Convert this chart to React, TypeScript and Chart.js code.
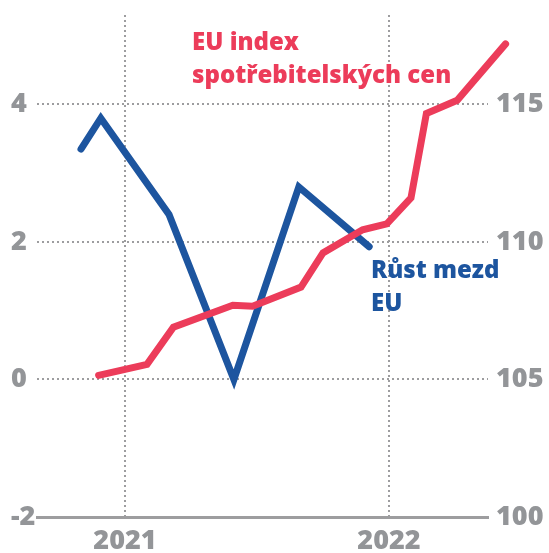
import React, { useEffect, useRef } from 'react';
import { Chart, registerables } from 'chart.js';

Chart.register(...registerables);

// x values are months relative to January 2021 (0 = Jan 2021, 12 = Jan 2022)
const wageMonths = [-2, -1.1, 2, 4.95, 7.9, 11.1];
const wageGrowth = [3.35, 3.8, 2.4, 0.0, 2.8, 1.93];

const cpiMonths = [-1.2, 1.0, 2.2, 4.9, 5.8, 8.0, 9.0, 10.8, 11.9, 13.0, 13.7, 15.1, 17.3];
const cpiIndex = [105.15, 105.55, 106.9, 107.7, 107.66, 108.36, 109.6, 110.44, 110.66, 111.6, 114.67, 115.15, 117.2];

const yearTicks = [0, 12];
const yearLabels = ['2021', '2022'];
const leftTicks = [-2, 0, 2, 4];
const rightTicks = [100, 105, 110, 115];

const cpiLabel = ['EU index', 'spotřebitelských cen'];
const wageLabel = ['Růst mezd', 'EU'];

const RED = '#ec3c5a';
const BLUE = '#1d559f';
const GRAY = '#939598';
const GRID = '#9d9d9f';
const FONT = '"Open Sans"';

const annotationPlugin = {
  id: 'textAnnotations',
  afterDatasetsDraw(chart: any) {
    const { ctx, scales } = chart;
    const x = scales.x;
    const y = scales.y;
    const items = [
      { lines: cpiLabel, mx: 3.05, vy: 4.785, color: RED },
      { lines: wageLabel, mx: 11.18, vy: 1.47, color: BLUE },
    ];
    ctx.save();
    ctx.font = `800 24px ${FONT}`;
    ctx.textAlign = 'left';
    ctx.textBaseline = 'alphabetic';
    for (const it of items) {
      const px = x.getPixelForValue(it.mx);
      const py = y.getPixelForValue(it.vy);
      ctx.fillStyle = it.color;
      it.lines.forEach((t, i) => ctx.fillText(t, px, py + i * 33));
    }
    ctx.restore();
  },
};

export default function App() {
  const ref = useRef<HTMLCanvasElement>(null);

  useEffect(() => {
    if (!ref.current) return;
    const tickFont = { family: FONT, size: 27, weight: 800 as any };
    const chart = new Chart(ref.current, {
      type: 'line',
      data: {
        datasets: [
          {
            label: 'EU index spotřebitelských cen',
            data: cpiMonths.map((m, i) => ({ x: m, y: cpiIndex[i] })),
            yAxisID: 'y2',
            borderColor: RED,
            borderWidth: 7,
            pointRadius: 0,
            borderCapStyle: 'round',
            borderJoinStyle: 'miter',
            tension: 0,
            clip: false as any,
          },
          {
            label: 'Růst mezd EU',
            data: wageMonths.map((m, i) => ({ x: m, y: wageGrowth[i] })),
            yAxisID: 'y',
            borderColor: BLUE,
            borderWidth: 7,
            pointRadius: 0,
            borderCapStyle: 'round',
            borderJoinStyle: 'miter',
            tension: 0,
            clip: false as any,
          },
        ],
      },
      options: {
        animation: false,
        responsive: false,
        maintainAspectRatio: false,
        layout: { padding: { left: 11, top: 15, right: 0, bottom: 0 } },
        plugins: { legend: { display: false }, tooltip: { enabled: false } },
        scales: {
          x: {
            type: 'linear',
            min: -4,
            max: 16.5,
            afterBuildTicks: (s: any) => {
              s.ticks = yearTicks.map((v) => ({ value: v }));
            },
            afterFit: (s: any) => {
              s.height = 36;
            },
            ticks: {
              callback: (v: any) => yearLabels[yearTicks.indexOf(Number(v))],
              font: tickFont,
              color: GRAY,
              padding: 8,
              maxRotation: 0,
              autoSkip: false,
            },
            grid: { color: GRID, lineWidth: 2, drawTicks: false },
            border: { display: true, color: GRID, width: 3, dash: [2, 3] },
          },
          y: {
            position: 'left',
            min: -2,
            max: 5.3,
            afterBuildTicks: (s: any) => {
              s.ticks = leftTicks.map((v) => ({ value: v }));
            },
            afterFit: (s: any) => {
              s.width = 26;
              s.paddingTop = 0;
              s.paddingBottom = 0;
            },
            ticks: { crossAlign: 'far', font: tickFont, color: GRAY, padding: 0 },
            grid: { color: GRID, lineWidth: 2, drawTicks: false },
            border: { display: false, dash: [2, 3] },
          },
          y2: {
            position: 'right',
            min: 100,
            max: 118.25,
            afterBuildTicks: (s: any) => {
              s.ticks = rightTicks.map((v) => ({ value: v }));
            },
            afterFit: (s: any) => {
              s.width = 61;
              s.paddingTop = 0;
              s.paddingBottom = 0;
            },
            ticks: { font: tickFont, color: GRAY, padding: 8 },
            grid: { display: false, drawTicks: false },
            border: { display: false },
          },
        },
      },
      plugins: [annotationPlugin],
    });
    return () => chart.destroy();
  }, []);

  return (
    <div style={{ position: 'absolute', left: 0, top: 0, width: 549, height: 553, background: '#fff' }}>
      <canvas ref={ref} width={549} height={553} style={{ width: 549, height: 553, display: 'block' }} />
    </div>
  );
}
